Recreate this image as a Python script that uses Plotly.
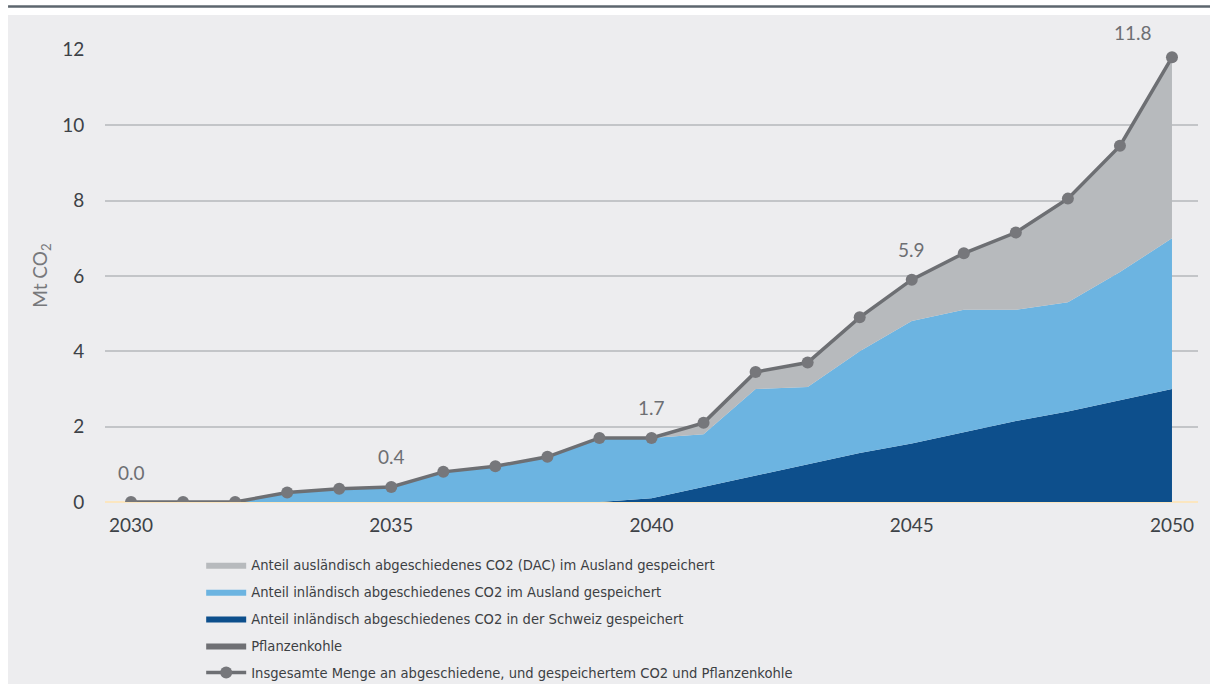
import plotly.graph_objects as go

# Years on the x axis
years = list(range(2030, 2051))

# Stored CO2 by origin / storage location (Mt CO2 per year)
pflanzenkohle = [0.0] * 21
inland_schweiz = [0, 0, 0, 0, 0, 0, 0, 0, 0, 0, 0.1,
                  0.4, 0.7, 1.0, 1.3, 1.55, 1.85, 2.15, 2.4, 2.7, 3.0]
inland_ausland = [0, 0, 0, 0.25, 0.35, 0.4, 0.8, 0.95, 1.2, 1.7, 1.6,
                  1.4, 2.3, 2.05, 2.7, 3.25, 3.25, 2.95, 2.9, 3.4, 4.0]
dac_ausland = [0, 0, 0, 0, 0, 0, 0, 0, 0, 0, 0,
               0.3, 0.45, 0.65, 0.9, 1.1, 1.5, 2.05, 2.75, 3.35, 4.8]

# Total amount (line) and the years that carry a value label
total = [0.0, 0.0, 0.0, 0.25, 0.35, 0.4, 0.8, 0.95, 1.2, 1.7, 1.7,
         2.1, 3.45, 3.7, 4.9, 5.9, 6.6, 7.15, 8.05, 9.45, 11.8]
label_years = [2030, 2035, 2040, 2045, 2050]

names = {
    "dac": "Anteil ausländisch abgeschiedenes CO2 (DAC) im Ausland gespeichert",
    "ausland": "Anteil inländisch abgeschiedenes CO2 im Ausland gespeichert",
    "schweiz": "Anteil inländisch abgeschiedenes CO2 in der Schweiz gespeichert",
    "kohle": "Pflanzenkohle",
    "total": "Insgesamte Menge an abgeschiedene, und gespeichertem CO2 und Pflanzenkohle",
}

C_DAC = "#b7babd"
C_AUSLAND = "#6cb4e1"
C_SCHWEIZ = "#0d4f8c"
C_KOHLE = "#6f7074"
C_LINE = "#6d6f73"
C_PANEL = "#ededef"

TICK_FONT = "Lato, Roboto, sans-serif"
LEGEND_FONT = "DejaVu Sans Condensed, Roboto, sans-serif"

fig = go.Figure()

areas = [
    (pflanzenkohle, names["kohle"], C_KOHLE, 4),
    (inland_schweiz, names["schweiz"], C_SCHWEIZ, 3),
    (inland_ausland, names["ausland"], C_AUSLAND, 2),
    (dac_ausland, names["dac"], C_DAC, 1),
]
for vals, name, color, rank in areas:
    fig.add_trace(go.Scatter(
        x=years, y=vals, name=name, mode="lines",
        stackgroup="one", fillcolor=color,
        line=dict(width=0, color=color),
        legendrank=rank, legendgroup=name,
        hoverinfo="skip",
    ))

fig.add_trace(go.Scatter(
    x=years, y=total, name=names["total"], mode="lines+markers",
    line=dict(color=C_LINE, width=3.5),
    marker=dict(color="#76777b", size=12),
    legendrank=5, legendgroup="total",
))

# Value labels above selected points (the last one sits left of its point)
for yr in label_years:
    v = total[years.index(yr)]
    last = yr == label_years[-1]
    fig.add_annotation(
        x=yr, y=v, text=f"{v:.1f}", showarrow=False,
        yshift=25 if last else 30, xshift=-39 if last else 0,
        font=dict(family=TICK_FONT, size=19, color="#6d6f73"),
    )

# Panel background and rule at the top of the figure
fig.add_shape(type="rect", xref="paper", yref="paper",
              x0=-0.0887, x1=1.02, y0=-0.41, y1=1.075,
              fillcolor=C_PANEL, line=dict(width=0), layer="below")
fig.add_shape(type="line", xref="paper", yref="paper",
              x0=-0.0887, x1=1.02, y0=1.094, y1=1.094,
              line=dict(color="#5d666e", width=2.5), layer="below")

fig.update_layout(
    width=1210, height=684,
    margin=dict(l=105, r=12, t=49, b=182, autoexpand=False),
    paper_bgcolor="white",
    plot_bgcolor="rgba(0,0,0,0)",
    showlegend=True,
    legend=dict(
        x=0.088, y=-0.103, xanchor="left", yanchor="top",
        orientation="v", traceorder="grouped", tracegroupgap=5,
        bgcolor="rgba(0,0,0,0)",
        font=dict(family=LEGEND_FONT, size=14.6, color="#3c4043"),
        itemwidth=40,
    ),
    xaxis=dict(
        range=[2029.5, 2050.5], tickmode="array",
        tickvals=[2030, 2035, 2040, 2045, 2050],
        showgrid=False, zeroline=False, showline=False,
        ticks="outside", ticklen=6, tickcolor="rgba(0,0,0,0)",
        tickfont=dict(family=TICK_FONT, size=19, color="#3d4247"),
    ),
    yaxis=dict(
        range=[0, 12.02], tickmode="array", tickvals=[0, 2, 4, 6, 8, 10, 12],
        showgrid=True, gridcolor="#c3c5c8", gridwidth=2,
        zeroline=True, zerolinecolor="#fbe6c0", zerolinewidth=2,
        showline=False,
        ticks="outside", ticklen=16, tickcolor="rgba(0,0,0,0)",
        tickfont=dict(family=TICK_FONT, size=19, color="#3d4247"),
        title=dict(text="Mt CO<sub>2</sub>", standoff=9,
                   font=dict(family=TICK_FONT, size=19, color="#77787b")),
    ),
)

fig.write_html("out.html")
